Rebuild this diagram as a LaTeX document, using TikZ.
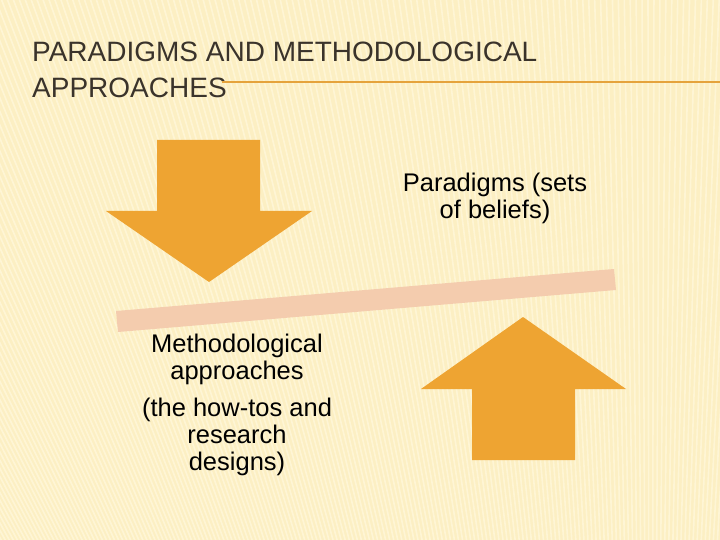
\documentclass[tikz,border=0pt]{standalone}
\usepackage{fontspec}
\setmainfont{Liberation Sans}
\newfontfamily\titlefont{Liberation Sans}
\definecolor{cream}{HTML}{FCEFC3}
\definecolor{stripe}{HTML}{FFF8DC}
\definecolor{arrowfill}{HTML}{EEA432}
\definecolor{barfill}{HTML}{F4CCAE}
\definecolor{titlegray}{HTML}{3A332B}
\definecolor{rulecol}{HTML}{E5A33C}

\begin{document}
\begin{tikzpicture}[x=1pt,y=-1pt,
    bigarrow/.style={fill=arrowfill, draw=none},
    textblock/.style={align=center, inner sep=0pt, font=\fontsize{25.5}{27}\selectfont},
    heading/.style={anchor=base west, inner sep=0pt, text=titlegray, font=\titlefont\fontsize{28}{36}\selectfont}]
   \useasboundingbox (0,0) rectangle (720,540);
   % background
   \fill[cream] (0,0) rectangle (720,540);
   \begin{scope}
     \clip (0,0) rectangle (720,540);
     \foreach \i in {-60,...,140}
       \draw[stripe, line width=1.6pt, opacity=0.75] (650,1700) -- (\i*6,-20);
   \end{scope}
   % title
   \node[heading] (title1) at (32,62) {PARADIGMS AND METHODOLOGICAL};
   \node[heading] (title2) at (32,98) {APPROACHES};
   \coordinate (rulestart) at (222,82);
   \coordinate (ruleend) at (720,82);
   \draw[rulecol, line width=2pt] (rulestart) -- (ruleend);
   % arrows and balance bar
   \fill[bigarrow] (157,140) -- (260,140) -- (260,211) -- (312,211) -- (209,282)
                   -- (106,211) -- (157,211) -- cycle;
   \fill[barfill] (116,311) -- (614,269) -- (616,290) -- (118,332) -- cycle;
   \fill[bigarrow] (523,317) -- (626,389) -- (575,389) -- (575,460) -- (472,460)
                   -- (472,389) -- (421,389) -- cycle;
   % labels
   \node[textblock] (paradigms) at (495,198) {Paradigms (sets\\of beliefs)};
   \node[textblock] (methods) at (237,359) {Methodological\\approaches};
   \node[textblock] (howtos) at (237,437) {(the how-tos and\\research\\designs)};
\end{tikzpicture}
\end{document}
